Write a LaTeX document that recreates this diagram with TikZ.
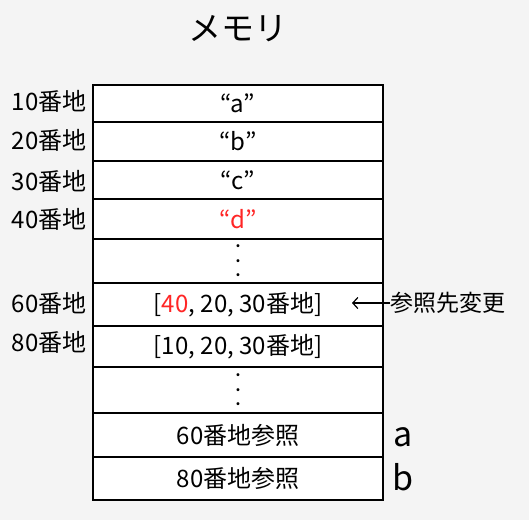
\documentclass[tikz,border=0pt]{standalone}
\usepackage{fontspec}
\setmainfont{Noto Sans CJK JP}
\usepackage{tikz}
\definecolor{bg100}{HTML}{F4F4F4}
\definecolor{red500}{HTML}{FF2626}
\usetikzlibrary{arrows,arrows.meta,positioning}
\tikzstyle{cell}=[rectangle, draw=black, fill=white, minimum width=290pt, inner sep=0pt, outer sep=0pt, font=\fontsize{24}{28}\selectfont]
\tikzstyle{address}=[anchor=east, inner sep=0pt, font=\fontsize{24}{28}\selectfont]
\tikzstyle{dots}=[align=center, font=\fontsize{14}{14.5}\selectfont\bfseries]

\begin{document}
\begin{tikzpicture}[x=1pt, y=-1pt, line width=1.2pt]
			\fill[bg100] (0,0) rectangle (529,520);
			\node[font=\fontsize{33}{38}\selectfont] (title) at (238,29) {メモリ};
			\node[cell, minimum height=37pt, anchor=north] (m10) at (238,85) {“a”};
			\node[cell, minimum height=39pt, below=0pt of m10] (m20) {“b”};
			\node[cell, minimum height=38pt, below=0pt of m20] (m30) {“c”};
			\node[cell, minimum height=40pt, below=0pt of m30] (m40) {\color{red500}“d”};
			\node[cell, dots, minimum height=44pt, below=0pt of m40] (gap1) {.\\.\\.};
			\node[cell, minimum height=43pt, below=0pt of gap1] (m60) {[{\color{red500}40}, 20, 30番地]};
			\node[cell, minimum height=41pt, below=0pt of m60] (m80) {[10, 20, 30番地]};
			\node[cell, dots, minimum height=46pt, below=0pt of m80] (gap2) {.\\.\\.};
			\node[cell, minimum height=44pt, below=0pt of gap2] (refa) {60番地参照};
			\node[cell, minimum height=43pt, below=0pt of refa] (refb) {80番地参照};
			\node[address] (a10) at (87,101) {10番地};
			\node[address] (a20) at (87,140) {20番地};
			\node[address] (a30) at (87,181) {30番地};
			\node[address] (a40) at (87,219) {40番地};
			\node[address] (a60) at (87,303) {60番地};
			\node[address] (a80) at (87,342) {80番地};
			\node[font=\fontsize{34}{40}\selectfont] (va) at (403,437) {a};
			\node[font=\fontsize{34}{40}\selectfont] (vb) at (403,477) {b};
			\node[anchor=west, inner sep=0pt, font=\fontsize{23}{27}\selectfont] (change) at (390,303) {参照先変更};
			\coordinate (tip) at (352,303);
			\path[draw=black, -{Straight Barb[length=5pt, width=11pt]}] (change)--(tip);
		\end{tikzpicture}
\end{document}
